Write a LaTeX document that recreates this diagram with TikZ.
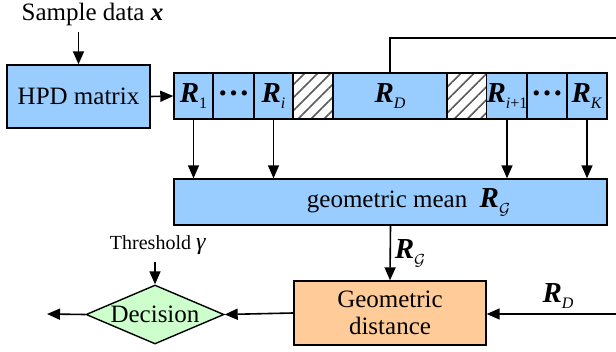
\documentclass[tikz,border=0pt]{standalone}
\usepackage{fontspec}
\setmainfont{Liberation Serif}
\usetikzlibrary{arrows.meta,shapes.geometric,patterns.meta}
\definecolor{cblue}{RGB}{153,204,255}
\definecolor{cgreen}{RGB}{204,255,204}
\definecolor{corange}{RGB}{255,204,153}
\newcommand\Rsub[1]{{\fontsize{14.5}{16}\selectfont\textbf{\textit{R}}}\raisebox{-0.6ex}{\footnotesize #1}}
\newcommand\bdots{{\bfseries\fontsize{16}{16}\selectfont\raisebox{0.35ex}{…}}}
\begin{document}
\begin{tikzpicture}[x=0.5pt,y=-0.5pt,
  font=\fontsize{12.5}{14.5}\selectfont,
  arr/.style={line width=0.8pt,-{Triangle[length=6.5pt,width=5.5pt]}},
  ln/.style={line width=0.8pt},
  bx/.style={draw,line width=0.7pt,inner sep=0pt,align=center},
  cell/.style={bx,fill=cblue,minimum height=23pt},
  hatchcell/.style={bx,minimum height=23pt,minimum width=20pt,
    preaction={fill=white},
    pattern={Lines[angle=45,distance=4.6pt,line width=0.8pt]},pattern color=black!65}]
\useasboundingbox (0,0) rectangle (616,352);
% input
\node (sample) at (92.5,14) {Sample data \textbf{\textit{x}}};
\node[cell,minimum width=71.5pt,minimum height=31.5pt] (HPD) at (78.5,96.5) {HPD matrix};
% strip
\node[cell,minimum width=19.5pt] (R1) at (193.5,96) {\Rsub{1}};
\node[cell,minimum width=20.5pt] (D1) at (233.5,96) {\bdots};
\node[cell,minimum width=19.5pt] (Ri) at (273.5,96) {\Rsub{\textit{i}}};
\node[hatchcell] (H1) at (313,96) {};
\node[cell,minimum width=57pt] (RD) at (390,96) {\Rsub{\textit{D}}};
\node[hatchcell] (H2) at (467,96) {};
\node[cell,minimum width=20pt] (Ri1) at (507,96) {\Rsub{\textit{i}+1}};
\node[cell,minimum width=20pt] (D2) at (547,96) {\bdots};
\node[cell,minimum width=20pt] (RK) at (587,96) {\Rsub{\textit{K}}};
% mean
\node[cell,minimum width=216.5pt] (GM) at (390.5,202) {\hspace*{18pt}geometric mean\ \ \Rsub{$\mathcal{G}$}};
% distance
\node[bx,fill=corange,minimum width=96pt,minimum height=32pt] (GD) at (390,313) {Geometric\\[-1pt]distance};
% decision
\node[diamond,draw,line width=0.7pt,fill=cgreen,inner sep=0pt,aspect=2.34,
  minimum width=69pt,minimum height=29.5pt] (DEC) at (155,314.5) {Decision};
\node[font=\fontsize{10}{12}\selectfont] (thr) at (158,245) {Threshold \textit{\large γ}};
\node (lRG) at (410,253) {\Rsub{$\mathcal{G}$}};
\node (lRD) at (558,296) {\Rsub{\textit{D}}};
\coordinate (rtop) at (616,38);
\coordinate (rbot) at (616,314);
\coordinate (out) at (47,314);
% connectors
\draw[arr] (sample.south -| HPD.north) -- (HPD.north);
\draw[arr] (HPD.east) -- (R1.west);
\draw[ln] (RD.north) -- (RD.north |- rtop) -- (rtop);
\foreach \c in {R1,Ri,Ri1,RK}
  \draw[arr] (\c.south) -- (\c.south |- GM.north);
\draw[arr] (GM.south) -- (GD.north);
\draw[arr] (rbot) -- (rbot -| GD.east);
\draw[arr] (GD.west) -- (DEC.east);
\draw[arr] (DEC.west) -- (out);
\draw[arr] (thr.south -| DEC.north) -- (DEC.north);
\end{tikzpicture}
\end{document}
